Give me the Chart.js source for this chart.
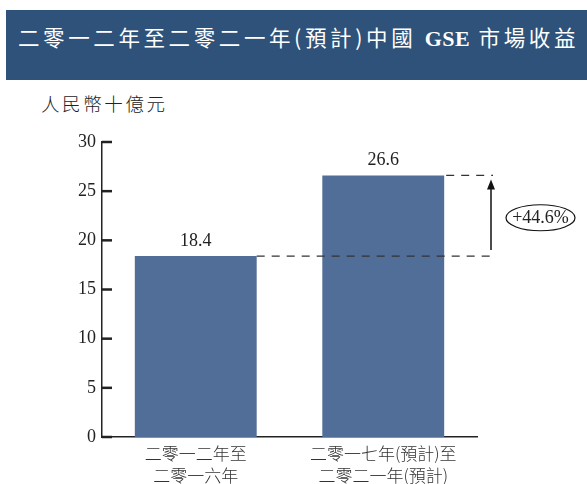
<!DOCTYPE html>
<html><head><meta charset="utf-8">
<script src="https://cdn.jsdelivr.net/npm/chart.js@4"></script>
<style>
html,body{margin:0;padding:0;background:#fff;width:587px;height:484px;overflow:hidden;position:relative;}
#banner{position:absolute;left:6px;top:10px;width:581px;height:70px;background:#2e5279;}
#title{position:absolute;left:18px;top:22px;color:#fff;font-family:"Noto Sans CJK TC";font-size:21.5px;line-height:30px;white-space:nowrap;letter-spacing:3.6px;}
#title b{font-family:"Liberation Serif";font-weight:bold;font-size:22px;letter-spacing:0.5px;}
#unit{position:absolute;left:41px;top:90px;font-family:"Noto Sans CJK TC";font-weight:300;font-size:18.5px;letter-spacing:2.6px;color:#222;line-height:26px;}
#wrap{position:absolute;left:0;top:0;width:587px;height:484px;}
</style></head><body>
<div id="banner"></div>
<div id="title">二零一二年至二零二一年(預計)中國 <b>GSE</b> 市場收益</div>
<div id="unit">人民幣十億元</div>
<div id="wrap"><canvas id="c" width="587" height="484"></canvas></div>
<script>
const categories = [["二零一二年至","二零一六年"],["二零一七年(預計)至","二零二一年(預計)"]];
const values = [18.4, 26.6];
const valueLabels = ["18.4", "26.6"];
const yTicks = [0,5,10,15,20,25,30];
const growthLabel = "+44.6%";

const overlay = {
  id:'overlay',
  afterDatasetsDraw(chart){
    const ctx = chart.ctx, y = chart.scales.y, ca = chart.chartArea;
    ctx.save();
    ctx.strokeStyle = '#222'; ctx.lineWidth = 2.5;
    yTicks.forEach(v=>{ const py = y.getPixelForValue(v); ctx.beginPath(); ctx.moveTo(ca.left, py); ctx.lineTo(ca.left+10, py); ctx.stroke(); });
    const meta = chart.getDatasetMeta(0);
    ctx.fillStyle = '#222'; ctx.font = '18px "Liberation Serif"'; ctx.textAlign='center'; ctx.textBaseline='middle';
    meta.data.forEach((b,i)=>{ ctx.fillText(valueLabels[i], b.x, b.y-15); });
    const b0 = meta.data[0], b1 = meta.data[1];
    const xEnd = 493;
    ctx.setLineDash([8,7]); ctx.lineWidth = 1.3; ctx.strokeStyle = '#333';
    ctx.beginPath(); ctx.moveTo(b0.x + b0.width/2, b0.y); ctx.lineTo(xEnd, b0.y); ctx.stroke();
    ctx.beginPath(); ctx.moveTo(b1.x + b1.width/2 + 2, b1.y); ctx.lineTo(xEnd, b1.y); ctx.stroke();
    ctx.setLineDash([]);
    const ax = 491;
    ctx.lineWidth = 1.5; ctx.strokeStyle = '#111'; ctx.fillStyle='#111';
    ctx.beginPath(); ctx.moveTo(ax, b0.y-6); ctx.lineTo(ax, b1.y+12); ctx.stroke();
    ctx.beginPath(); ctx.moveTo(ax, b1.y+4); ctx.lineTo(ax-4, b1.y+14); ctx.lineTo(ax+4, b1.y+14); ctx.closePath(); ctx.fill();
    const ex = 540.5, ey = (b0.y + b1.y)/2 + 2;
    ctx.lineWidth = 1.2; ctx.beginPath(); ctx.ellipse(ex, ey, 34.5, 13, 0, 0, Math.PI*2); ctx.stroke();
    ctx.fillStyle = '#222'; ctx.font = '18px "Liberation Serif"';
    ctx.fillText(growthLabel, ex, ey+1);
    ctx.restore();
  }
};

new Chart(document.getElementById('c'), {
  type:'bar',
  data:{ labels: categories, datasets:[{ data: values, backgroundColor:'#506e98', barPercentage:0.65, categoryPercentage:1.0 }]},
  options:{
    responsive:false, animation:false, devicePixelRatio:1,
    layout:{ padding:{ left:0, right:110, top:142, bottom:0 } },
    plugins:{ legend:{display:false}, tooltip:{enabled:false} },
    scales:{
      x:{
        grid:{ display:false, drawTicks:false },
        border:{ display:true, color:'#222', width:1.5 },
        ticks:{ color:'#333', font:{ family:'"Noto Sans CJK TC"', size:17, weight:300, lineHeight:1.3 }, padding:5, maxRotation:0 },
        afterFit(s){ s.height = 47; }
      },
      y:{
        min:0, max:30,
        afterBuildTicks(s){ s.ticks = yTicks.map(v=>({value:v})); },
        grid:{ display:false, drawTicks:false },
        border:{ display:true, color:'#222', width:1.5 },
        ticks:{ color:'#222', font:{ family:'"Liberation Serif"', size:18 }, padding:6 },
        afterFit(s){ s.width = 102; }
      }
    }
  },
  plugins:[overlay]
});
</script>
</body></html>
